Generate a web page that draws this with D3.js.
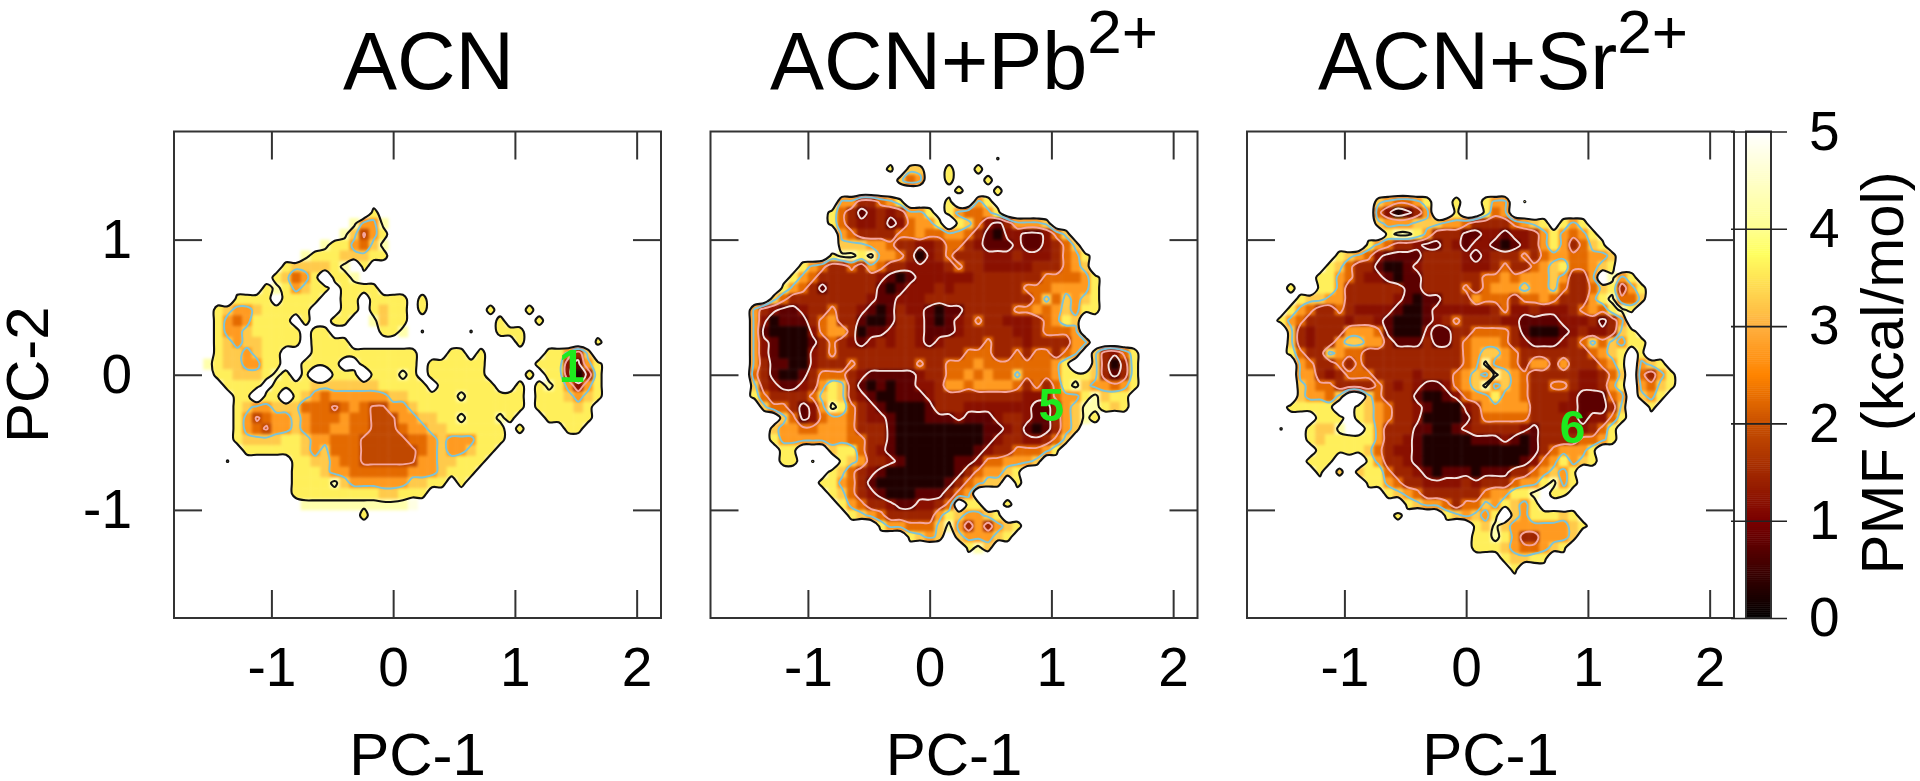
<!DOCTYPE html>
<html><head><meta charset="utf-8">
<script src="https://cdn.jsdelivr.net/npm/d3@7/dist/d3.min.js"></script>
<style>
html,body{margin:0;padding:0;background:#fff;overflow:hidden}
svg{display:block;filter:blur(0.5px)}
text{font-family:"Liberation Sans",Arial,sans-serif;fill:#000}
</style></head><body><svg id="c" width="1920" height="781"></svg>
<script>
// "." = unsampled; a digit (or "a" = 10) indexes pmfBands below.
const pmfBands = [0.25, 0.75, 1.2, 1.45, 2.25, 2.75, 3.25, 3.6, 4.25, 4.75, 1.9];
const pmfACN = ["","","","","","","",
"..... ..... ..... ..... 7",
"..... ..... ..... ...85 58",
"..... ..... ..... ..86a 57",
"..... ..... ..... 87754 68",
"..... ..... ...87 77666 77",
"..... ..... .7666 678.7",
"..... ..... 76457 .778.",
"..... ....7 87567 7.777 7",
"..... .7777 .7777 ..77. 7777. 7",
"....7 65567 7777. ..77. 7677. 7.... ..7.. .7",
"....7 54577 77.7. .77.. 8677. ..... ...7. ..7",
"....7 55677 777.7 7.... .778. 7.... 7..77 7",
"....7 65667 777.7 777.. ..... ..... ..... 7.... ...7.",
"....7 66567 7...7 77777 77777 ...77 .7... ...77 536..",
"...87 66557 7..77 77..7 77777 .7777 77... ..777 2157.",
"....7 76667 87.7. .777. 77787 .7777 77... .7.77 2027.",
"..... 7777. 77776 66666 67777 7.777 777.. 7.787 5257.",
"..... .77.7 7.765 45555 55667 77778 77777 7.777 6567.",
"..... .7655 66644 4a454 aa556 77777 77777 7.777 767..",
"..... .75a4 55654 44544 aaa55 66778 77787 ...77 777..",
"..... .754a 55654 45544 aaa45 56677 7777. 7.... 77",
"..... .7666 67765 5444a aaaa4 45655 5777.",
"..... ..777 77765 6444a aaaaa 45655 677..",
"..... 7.... ..776 6544a aaaaa 55667 77...",
"..... ..... ..777 65544 44445 55677 7",
"..... ..... ..777 78655 55556 677.7",
"..... ..... ..777 77777 76677 7....",
"..... ..... ...88 88888 88889",
"..... ..... ..... ....7"];
const pmfPb = ["","",
"..... ..... ..... ..... ..... ....7",
"..... ..... ..... ...7. 66..7 ..7..",
"..... ..... ..... ....6 45..7 ...7.",
"..... ..... ..... ..... ..... 7...7",
"..... ..... ...55 33457 ....7 ..57.",
"..... ..... ..743 12323 557.7 54457",
"..... ..... ..743 22312 4557. 76421 35556",
"..... ..... ...54 33334 45445 54310 22112 46...",
"..... ..... ...66 65543 32234 43211 12112 346..",
"..... ..... ..788 78554 30234 33322 23222 3457.",
"..... ....7 54334 35433 22223 43322 22233 3456.",
"..... ...75 43333 33210 12222 22333 33334 44457",
"..... ..754 31333 33101 22232 33333 33444 55557",
"..... .6433 33333 32112 22333 33333 33346 46567",
"....5 32112 33433 21013 22101 13333 34454 56577",
"....5 20111 34533 10013 32101 23433 22234 576..",
"....5 10000 24553 01123 32111 23333 32234 445..",
"....5 21000 13432 12323 32123 33343 33233 3355.",
"....5 21000 23433 33333 33333 34443 34344 345.6 3247.",
"....5 31100 23334 33333 34334 44544 44444 57..6 3037.",
"....4 31001 34443 21111 12334 45454 46444 57776 3137.",
"....6 32112 35763 10101 12235 54555 54343 47865 5457.",
"....7 43333 46763 21001 11233 33333 33222 45578 677..",
"..... 64431 25874 32100 00133 32222 22211 35688 767..",
"..... ..641 24554 32210 00111 21112 33211 35687",
"..... .6554 45554 33310 00000 00011 23101 356..",
"..... .7555 55554 43310 00000 00012 33223 46...",
"..... ..77. ..677 43210 00000 00123 34445 7",
"..... ..77. 7..76 53321 00000 11244 5556.",
"..... ..... ..764 32100 00000 13455 67...",
"..... ..... .7754 31000 00001 34566 .7...",
"..... ..... ..764 32100 01113 45...",
"..... ..... ...75 43321 12234 .77.. 7....",
"..... ..... ....7 65433 33357 65567",
"..... ..... ..... ..755 44468 53535 67...",
"..... ..... ..... ..... 7656. 65556 7",
"..... ..... ..... ..... ..... .786."];
const pmfSr = ["","","","","","",
"..... ..... ...65 4457. .7..7 55.7.",
"..... ..... ...42 0135. .7..7 45...",
"..... ..... ...65 55666 55433 33456 7.757",
"..... ..... ....7 88753 33112 21223 57545 7",
"..... ..... ..754 33211 32122 10123 57534 67...",
"..... ....7 65421 11133 33212 33343 45544 556..",
"..... ...76 43310 01233 33222 34334 56744 567..",
"..... ..775 43221 01133 33334 45455 56533 5.857",
"....7 ..775 33333 31133 33434 55565 56433 46735 7",
"..... 76655 33333 21011 33354 44344 54333 57844 6",
"....7 54334 32222 10012 22222 34223 22234 54787",
"...75 43333 23321 00012 34333 32211 11222 3135.",
"....6 32333 55541 00021 13344 44310 00123 22367",
"....6 32335 66553 11131 13455 54321 11234 64657 7",
"....7 43365 44333 33333 33456 65433 33333 4567. 7",
"..... 54334 34333 33333 33458 55435 53533 3457. 567",
"..... 55323 44433 33233 34565 86543 33332 2346. 4357.",
"..... 65443 33343 23211 24568 56543 34432 2357. 5467.",
"..... 65546 ..643 33100 12455 75543 33321 1145. 657..",
"....7 7777. .7654 33210 00235 55553 33221 1136. .7...",
"..... ..777 .7654 33200 00134 44443 33321 2247.",
"...7. .7668 ..753 33110 01233 33321 33322 347..",
"..... .7677 77753 32100 00011 12101 33334 457..",
"..... ..777 77643 22100 00000 00001 34555 7",
"..... .777. ..753 32100 00000 00012 45756 7",
"..... ..7.6 .6774 33210 11101 11334 5657.",
"..... ..... ..775 43322 22323 33455 7857.",
"..... ..... ....7 65433 33334 55778 .77..",
"..... ..... ..... .7655 43446 57657",
"..... ..... ..... 7.... 76565 7.657 7767.",
"..... ..... ..... ..... ...76 86555 55567",
"..... ..... ..... ..... ...77 87533 5556.",
"..... ..... ..... ..... ...77 76544 567..",
"..... ..... ..... ..... ..... .7667 7",
"..... ..... ..... ..... ..... ..7.."];

const panelTitles = ["ACN", "ACN+Pb", "ACN+Sr"];
const titleSupers = ["", "2+", "2+"];
const titleCentres = [428.5, 964, 1503];
const stateLabels = ["1", "5", "6"];
const stateX = [1.467, 1.0, 0.873];
const stateY = [0.07, -0.22, -0.383];
const xTicks = [-1, 0, 1, 2];
const yTicks = [-1, 0, 1];
const pmfTicks = [0, 1, 2, 3, 4, 5];
const contourLevels = [1, 2, 3, 4];
const contourColors = ["#f2e2e0", "#f4a6a0", "#7cc3d8", "#111111"];
const colorStops = [0, 1, 2, 2.5, 3, 3.75, 4, 5];
const colorValues = ["#000000", "#7a0000", "#c85000", "#ff8400", "#ffb040", "#ffff60", "#ffff90", "#ffffff"];

const NCOL = 50, NROW = 45, BIN = 0.08;
const panels = [pmfACN, pmfPb, pmfSr];
const panelLeft = [174, 710.5, 1247];
const panelW = 487, plotTop = 131.5, plotBottom = 618;

const svg = d3.select("#c");
const defs = svg.append("defs");
const color = d3.scaleLinear().domain(colorStops).range(colorValues).clamp(true);
const y = d3.scaleLinear().domain([-1.8, 1.8]).range([plotBottom, plotTop]);

function decode(rows) {
  const vals = [];
  for (let r = 0; r < NROW; r++) {
    const s = (rows[r] || "").replace(/ /g, "").padEnd(NCOL, ".");
    for (let c = 0; c < NCOL; c++) vals.push(s[c] === "." ? NaN : pmfBands[parseInt(s[c], 36)]);
  }
  return vals;
}

// field for the contour lines: unsampled bins sit just above the top level next to
// light bins so the line follows the bin's edge, and lone bins shrink to dots
function contourField(vals) {
  const at = (c, r) => (c < 0 || r < 0 || c >= NCOL || r >= NROW) ? NaN : vals[r * NCOL + c];
  return vals.map((v, k) => {
    const c = k % NCOL, r = Math.floor(k / NCOL);
    if (isNaN(v)) {
      const nb = [at(c - 1, r), at(c + 1, r), at(c, r - 1), at(c, r + 1)].filter(d => !isNaN(d));
      return nb.length && d3.min(nb) >= 3.5 ? 4.6 : 5.5;
    }
    let any = false;
    for (let a = -1; a <= 1; a++) for (let b = -1; b <= 1; b++)
      if ((a || b) && !isNaN(at(c + a, r + b))) any = true;
    return any ? v : Math.max(v, 3.95);
  });
}

panels.forEach((rows, i) => {
  const x = d3.scaleLinear().domain([-1.8, 2.2]).range([panelLeft[i], panelLeft[i] + panelW]);
  const vals = decode(rows);
  const g = svg.append("g");
  const cells = vals.map((v, k) => ({v, c: k % NCOL, r: Math.floor(k / NCOL)})).filter(d => !isNaN(d.v));

  // contour the negated field so the grid's outside never closes a ring along the border
  const neg = contourField(vals).map(v => -v);
  const line = d3.line()
    .x(p => x(-1.8 + p[0] * BIN)).y(p => y(1.8 - p[1] * BIN))
    .curve(d3.curveCatmullRomClosed.alpha(0.5));
  const levelPath = lv => {
    const cs = d3.contours().size([NCOL, NROW]).thresholds([-lv])(neg)[0];
    return cs.coordinates.flat().map(ring => line(ring.slice(0, -1))).join("");
  };

  const drawCells = (sel, data) => sel.selectAll("rect").data(data).join("rect")
    .attr("x", d => x(-1.8 + d.c * BIN))
    .attr("y", d => y(1.8 - d.r * BIN))
    .attr("width", x(BIN) - x(0) + 0.4)
    .attr("height", y(0) - y(BIN) + 0.4)
    .attr("fill", d => color(d.v));

  // sparse bins above the top contour stay as a pale halo
  drawCells(g.append("g").style("filter", "blur(1.5px)"), cells.filter(d => d.v > 4));
  // the rest of the map is limited to the outermost contour
  defs.append("clipPath").attr("id", "map" + i).append("path")
    .attr("d", levelPath(4)).attr("clip-rule", "evenodd");
  const inner = g.append("g").attr("clip-path", `url(#map${i})`);
  drawCells(inner.append("g").style("filter", "blur(1.8px)"), cells);

  contourLevels.forEach((lv, j) => {
    g.append("path").attr("d", levelPath(lv)).attr("fill", "none")
      .attr("stroke", contourColors[j]).attr("stroke-width", j === 3 ? 2.1 : 1.9)
      .attr("stroke-linejoin", "round");
  });

  const fmt = d => String(d);
  const ax = (a) => {
    const n = svg.append("g").call(a);
    n.selectAll("path.domain").remove();
    n.selectAll("line").attr("stroke", "#333").attr("stroke-width", 2);
    n.selectAll("text").style("font-size", "55px").attr("fill", "#000");
    return n;
  };
  ax(d3.axisBottom(x).tickValues(xTicks).tickSize(-28).tickPadding(29).tickFormat(fmt)).attr("transform", `translate(0,${plotBottom})`);
  ax(d3.axisTop(x).tickValues(xTicks).tickSize(-28).tickFormat("")).attr("transform", `translate(0,${plotTop})`);
  ax(d3.axisLeft(y).tickValues(yTicks).tickSize(-28).tickPadding(42).tickFormat(i === 0 ? fmt : "")).attr("transform", `translate(${x(-1.8)},0)`);
  ax(d3.axisRight(y).tickValues(yTicks).tickSize(-28).tickFormat("")).attr("transform", `translate(${x(2.2)},0)`);
  svg.append("rect").attr("x", x(-1.8)).attr("y", plotTop).attr("width", panelW).attr("height", plotBottom - plotTop)
    .attr("fill", "none").attr("stroke", "#333").attr("stroke-width", 2);

  svg.append("text").attr("x", x(stateX[i])).attr("y", y(stateY[i])).attr("dy", "0.36em")
    .attr("text-anchor", "middle").style("font-size", "46px").style("font-weight", "bold")
    .style("fill", "#1eea1e").text(stateLabels[i]);

  svg.append("text").attr("x", x(0.2)).attr("y", 775).attr("text-anchor", "middle")
    .style("font-size", "60px").text("PC-1");

  const tt = svg.append("text").attr("y", 89).attr("x", titleCentres[i])
    .attr("text-anchor", "middle").style("font-size", "81px").text(panelTitles[i]);
  if (titleSupers[i]) {
    tt.append("tspan").attr("dy", -36).style("font-size", "62px").text(titleSupers[i]);
  }
});

svg.append("text").attr("transform", `translate(48,${y(0)}) rotate(-90)`).attr("text-anchor", "middle")
  .style("font-size", "60px").text("PC-2");

// colour box
const cb = d3.scaleLinear().domain([0, 5]).range([plotBottom, plotTop]);
const barL = 1746, barW = 25;
const steps = d3.range(0, 5, 0.02);
svg.selectAll("rect.cb").data(steps).join("rect").attr("class", "cb")
  .attr("x", barL).attr("width", barW)
  .attr("y", d => cb(d + 0.02)).attr("height", d => cb(d) - cb(d + 0.02) + 0.5)
  .attr("fill", d => color(d + 0.01));
svg.append("rect").attr("x", barL).attr("y", plotTop).attr("width", barW).attr("height", plotBottom - plotTop)
  .attr("fill", "none").attr("stroke", "#333").attr("stroke-width", 2);
const cax = svg.append("g").attr("transform", `translate(1787,0)`).call(
  d3.axisRight(cb).tickValues(pmfTicks).tickSize(-56).tickPadding(22).tickFormat(d => String(d)));
cax.select("path.domain").remove();
cax.selectAll("line").attr("stroke", "#222").attr("stroke-width", 1.6);
cax.selectAll("text").style("font-size", "55px").attr("fill", "#000").attr("x", 22);

svg.append("text").attr("transform", `translate(1903,${cb(2.52)}) rotate(-90)`).attr("text-anchor", "middle")
  .style("font-size", "60px").text("PMF (kcal/mol)");
</script></body></html>
